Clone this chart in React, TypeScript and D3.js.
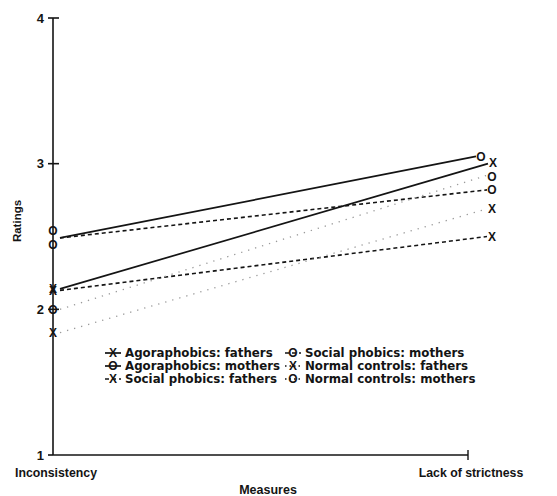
import React from "react";
import * as d3 from "d3";

// categories on the x axis
const categories = ["Inconsistency", "Lack of strictness"];
const yTicks = [1, 2, 3, 4];

// ratings per group
const agoraFathers = [2.14, 3.0];
const agoraMothers = [2.49, 3.05];
const socialFathers = [2.13, 2.5];
const socialMothers = [2.49, 2.82];
const normalFathers = [1.84, 2.69];
const normalMothers = [2.0, 2.92];

const seriesNames = [
  "Agoraphobics: fathers",
  "Agoraphobics: mothers",
  "Social phobics: fathers",
  "Social phobics: mothers",
  "Normal controls: fathers",
  "Normal controls: mothers",
];

const W = 557;
const H = 496;
const FONT = "'Liberation Sans', Arial, Helvetica, sans-serif";
const WIDE = "'DejaVu Sans', Verdana, sans-serif";
const INK = "#141414";

// styles per series (same order as seriesNames)
const styles = [
  { mark: "X", line: "solid", dx: [0, 2], dy: [0, -1] },
  { mark: "O", line: "solid", dx: [0, -10], dy: [-7, 0] },
  { mark: "X", line: "dashed", dx: [0, 1], dy: [0, 0] },
  { mark: "O", line: "dashed", dx: [0, 1], dy: [7, 0] },
  { mark: "X", line: "dotted", dx: [0, 1], dy: [0, 0] },
  { mark: "O", line: "dotted", dx: [0, 1], dy: [0, 1] },
];

function lineAttrs(kind: string, legend = false) {
  if (kind === "dashed") return { stroke: INK, strokeWidth: 1.6, strokeDasharray: "4,3" };
  if (kind === "dotted")
    return legend
      ? { stroke: INK, strokeWidth: 1.6, strokeDasharray: "1.5,3" }
      : { stroke: "#9a9a9a", strokeWidth: 1.3, strokeDasharray: "1.3,6" };
  return { stroke: INK, strokeWidth: 1.7 };
}

export default function App() {
  const data = [agoraFathers, agoraMothers, socialFathers, socialMothers, normalFathers, normalMothers];

  const y = d3.scaleLinear().domain([1, 4]).range([455, 18]);
  const x = d3.scalePoint<string>().domain(categories).range([53, 491]);
  const xAxis = d3.scalePoint<string>().domain(categories).range([53, 468]);

  const legendRows = [353, 366, 379];
  const legendCols = [113, 293];

  return (
    <svg
      width={W}
      height={H}
      style={{ position: "absolute", left: 0, top: 0, background: "#fff" }}
      fontFamily={FONT}
    >
      {/* y axis */}
      <line x1={53} x2={53} y1={y(4)} y2={y(1)} stroke={INK} strokeWidth={1.6} />
      {yTicks.map((t) => (
        <g key={t}>
          <line x1={48} x2={t === 1 ? 53 : 59} y1={y(t)} y2={y(t)} stroke={INK} strokeWidth={1.6} />
          <text x={44} y={y(t)} dy="0.36em" textAnchor="end" fontSize={13} fontWeight="bold" fill={INK}>
            {t}
          </text>
        </g>
      ))}
      {/* x axis */}
      <line x1={53} x2={xAxis(categories[1])!} y1={y(1)} y2={y(1)} stroke={INK} strokeWidth={1.6} />
      <line
        x1={xAxis(categories[1])!}
        x2={xAxis(categories[1])!}
        y1={y(1) - 5}
        y2={y(1) + 5}
        stroke={INK}
        strokeWidth={1.4}
      />
      {categories.map((c) => (
        <text key={c} x={xAxis(c)! + 3} y={477} textAnchor="middle" fontSize={12.3} fontWeight="bold" fill={INK}>
          {c}
        </text>
      ))}
      <text x={268} y={494} textAnchor="middle" fontSize={12.5} fontWeight="bold" fill={INK}>
        Measures
      </text>
      <text
        transform={`translate(21,221) rotate(-90)`}
        textAnchor="middle"
        fontSize={11.5}
        fontWeight="bold"
        fill={INK}
      >
        Ratings
      </text>

      {/* lines */}
      {data.map((vals, i) => {
        const st = styles[i];
        const x0 = x(categories[0])! + 7;
        const x1 = x(categories[1])! + st.dx[1] - 5;
        return (
          <line key={"l" + i} x1={x0} y1={y(vals[0])} x2={x1} y2={y(vals[1])} {...lineAttrs(st.line)} />
        );
      })}

      {/* markers */}
      {data.map((vals, i) =>
        vals.map((v, j) => (
          <text
            key={"m" + i + "-" + j}
            x={x(categories[j])! + styles[i].dx[j]}
            y={y(v) + styles[i].dy[j]}
            dy="0.36em"
            textAnchor="middle"
            fontSize={12}
            fontWeight="bold"
            fill={INK}
          >
            {styles[i].mark}
          </text>
        ))
      )}

      {/* legend */}
      {seriesNames.map((name, i) => {
        const col = Math.floor(i / 3);
        const row = i % 3;
        const cx = legendCols[col];
        const cy = legendRows[row];
        const st = styles[i];
        return (
          <g key={name}>
            <line x1={cx - 8} x2={cx + 8} y1={cy} y2={cy} {...lineAttrs(st.line, true)} />
            <text x={cx} y={cy} dy="0.36em" textAnchor="middle" fontSize={12} fontWeight="bold" fill={INK}>
              {st.mark}
            </text>
            <text x={cx + 12} y={cy} dy="0.36em" fontSize={11.8} fontWeight="bold" fontFamily={WIDE} fill={INK}>
              {name}
            </text>
          </g>
        );
      })}
    </svg>
  );
}
